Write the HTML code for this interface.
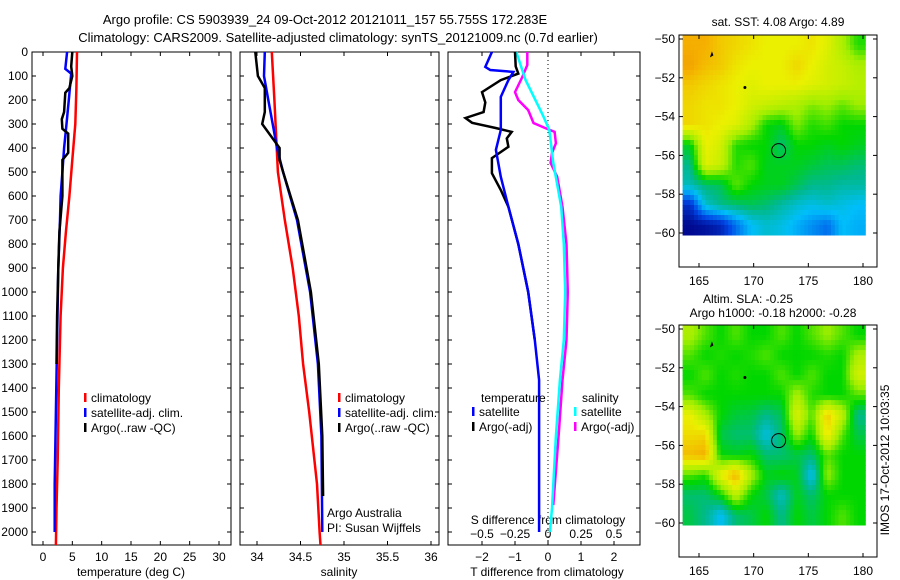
<!DOCTYPE html>
<html><head><meta charset="utf-8"><style>
body{margin:0;background:#fff}
svg{display:block;font-family:"Liberation Sans",sans-serif}
text{font-size:12px;fill:#000}
</style></head><body>
<svg id="c" width="900" height="580" viewBox="0 0 900 580">
<text x="325" y="24" text-anchor="middle" style="font-size:13px">Argo profile: CS 5903939_24 09-Oct-2012 20121011_157 55.755S 172.283E</text>
<text x="338" y="42" text-anchor="middle" style="font-size:13px">Climatology: CARS2009. Satellite-adjusted climatology: synTS_20121009.nc (0.7d earlier)</text>
<text transform="translate(889,460) rotate(-90)" text-anchor="middle">IMOS 17-Oct-2012 10:03:35</text>
</svg>
<script>
// ---- data ----
const depthTicks=[0,100,200,300,400,500,600,700,800,900,1000,1100,1200,1300,1400,1500,1600,1700,1800,1900,2000];
const tempTicks=[0,5,10,15,20,25,30];
const salTicks=[34,34.5,35,35.5,36];
const tdiffTicks=[-2,-1,0,1,2];
const sdiffTicks=[-0.5,-0.25,0,0.25,0.5];
const tClimDepth=[0,150,300,450,600,750,900,1100,1400,1700,1900,2054];
const tClimVal=[5.8,5.7,5.5,5.0,4.5,3.9,3.4,3.0,2.7,2.5,2.3,2.2];
const tSatDepth=[0,70,90,200,300,400,500,600,700,900,1200,1500,1800,2000];
const tSatVal=[4.1,3.8,4.8,4.4,4.0,3.6,3.3,3.0,2.9,2.6,2.4,2.2,2.0,2.0];
const tArgoDepth=[0,60,100,150,170,250,280,320,340,420,450,600,750,900,1100,1300];
const tArgoVal=[5.0,4.8,5.0,4.5,3.8,3.6,3.2,3.3,4.3,4.3,3.3,3.3,2.8,2.6,2.4,2.3];
const sClimDepth=[0,200,500,700,900,1100,1300,1500,1800,2000,2054];
const sClimVal=[34.17,34.2,34.24,34.32,34.41,34.48,34.53,34.6,34.69,34.72,34.73];
const sSatDepth=[0,100,200,300,400,500,700,1000,1300,1600,2000];
const sSatVal=[34.09,34.08,34.13,34.18,34.23,34.3,34.46,34.61,34.7,34.74,34.75];
const sArgoDepth=[0,100,150,250,300,400,450,500,700,1000,1300,1600,1850];
const sArgoVal=[33.98,34.01,34.09,34.09,34.06,34.26,34.26,34.3,34.47,34.62,34.71,34.75,34.76];
const dTSatDepth=[0,62,75,83,117,187,325,408,520,645,800,1000,1200,1367,2000];
const dTSatVal=[-1.7,-1.9,-1.75,-1.05,-1.2,-1.43,-1.43,-1.58,-1.43,-1.2,-0.9,-0.6,-0.4,-0.27,-0.27];
const dTArgoDepth=[0,60,90,117,167,210,250,275,295,317,333,360,395,442,505,575,645,800,1000,1200];
const dTArgoVal=[-1.0,-0.98,-0.9,-1.43,-2.0,-1.9,-1.95,-2.5,-2.3,-1.57,-1.1,-1.25,-1.2,-1.7,-1.7,-1.43,-1.2,-0.9,-0.6,-0.4];
const dSArgoDepth=[0,54,104,167,200,242,296,317,333,380,421,462,520,645,800,1000,1200,1367,1600,1888];
const dSArgoVal=[-0.157,-0.157,-0.195,-0.25,-0.225,-0.15,-0.11,-0.02,0.05,0.06,0.03,0.02,0.07,0.11,0.14,0.15,0.14,0.11,0.08,0.04];
const dSSatDepth=[0,117,262,325,462,645,800,1000,1200,1367,1600,1900,2000];
const dSSatVal=[-0.24,-0.17,-0.04,0.01,0.04,0.1,0.12,0.13,0.12,0.09,0.06,0.03,0.015];
const sstGrid=[
[0.82,0.82,0.78,0.76,0.74,0.72,0.72,0.72,0.74,0.7,0.62,0.52],
[0.84,0.8,0.78,0.74,0.72,0.72,0.72,0.76,0.72,0.68,0.66,0.62],
[0.78,0.76,0.74,0.72,0.7,0.72,0.72,0.72,0.7,0.68,0.66,0.64],
[0.76,0.74,0.74,0.72,0.68,0.66,0.64,0.62,0.58,0.6,0.56,0.6],
[0.76,0.74,0.72,0.7,0.62,0.5,0.48,0.58,0.52,0.54,0.5,0.5],
[0.48,0.72,0.68,0.52,0.5,0.5,0.42,0.5,0.5,0.48,0.5,0.48],
[0.4,0.7,0.66,0.52,0.55,0.48,0.48,0.48,0.46,0.44,0.44,0.42],
[0.36,0.42,0.44,0.56,0.5,0.48,0.48,0.44,0.4,0.4,0.38,0.38],
[0.1,0.34,0.4,0.42,0.44,0.42,0.38,0.34,0.32,0.34,0.32,0.3],
[0.02,0.04,0.08,0.2,0.3,0.34,0.32,0.28,0.24,0.2,0.3,0.28]];
const slaGrid=[
[0.62,0.55,0.5,0.55,0.5,0.5,0.55,0.5,0.55,0.6,0.55,0.5],
[0.55,0.5,0.52,0.5,0.52,0.55,0.5,0.5,0.5,0.52,0.5,0.62],
[0.5,0.55,0.5,0.52,0.5,0.5,0.55,0.5,0.55,0.5,0.5,0.68],
[0.55,0.5,0.5,0.5,0.5,0.5,0.5,0.62,0.52,0.5,0.5,0.55],
[0.72,0.62,0.5,0.46,0.45,0.4,0.44,0.7,0.55,0.78,0.65,0.4],
[0.75,0.76,0.45,0.42,0.42,0.32,0.42,0.6,0.5,0.74,0.55,0.45],
[0.8,0.82,0.5,0.48,0.5,0.42,0.42,0.45,0.42,0.55,0.5,0.5],
[0.55,0.52,0.72,0.82,0.62,0.48,0.5,0.48,0.3,0.6,0.5,0.5],
[0.42,0.42,0.5,0.65,0.5,0.45,0.35,0.48,0.42,0.5,0.5,0.5],
[0.45,0.4,0.3,0.42,0.45,0.5,0.4,0.5,0.45,0.5,0.55,0.5]];
const lonTicks=[165,170,175,180];
const latTicks=[-50,-52,-54,-56,-58,-60];
const argoLon=172.283, argoLat=-55.755;

// ---- helpers ----
const svg=document.getElementById('c');const NS='http://www.w3.org/2000/svg';
function mk(tag,at,parent){const e=document.createElementNS(NS,tag);for(const k in at)e.setAttribute(k,at[k]);(parent||svg).appendChild(e);return e;}
function txt(x,y,s,anchor,parent){const t=mk('text',{x:x,y:y,'text-anchor':anchor||'start'},parent);t.textContent=s;return t;}
const Y0=52,YB=545,DMAX=(YB-Y0)/0.24;
const yD=d=>Y0+d*(YB-Y0)/DMAX;
function lin(d0,d1,p0,p1){return v=>p0+(v-d0)*(p1-p0)/(d1-d0);}
function frame(x0,x1,name){
  const r=mk('rect',{x:x0,y:Y0,width:x1-x0,height:YB-Y0,fill:'none',stroke:'#000','stroke-width':1});
  
  depthTicks.forEach(d=>{const y=yD(d);mk('line',{x1:x0,x2:x0+4,y1:y,y2:y,stroke:'#000'});mk('line',{x1:x1-4,x2:x1,y1:y,y2:y,stroke:'#000'});});
}
function xticks(x0,x1,ticks,fx,labY,name){
  const g=mk('g',{});
  ticks.forEach(v=>{const x=fx(v);mk('line',{x1:x,x2:x,y1:Y0,y2:Y0+4,stroke:'#000'},g);mk('line',{x1:x,x2:x,y1:YB-4,y2:YB,stroke:'#000'},g);
    if(labY)txt(x,labY,String(v).replace('-','\u2212'),'middle',g);});
}
function line(depths,vals,fx,color,name,w){
  const p=mk('polyline',{points:depths.map((d,i)=>fx(vals[i]).toFixed(1)+','+yD(d).toFixed(1)).join(' '),fill:'none',stroke:color,'stroke-width':w||2.5});
  
}
function legend(x,y,color,label,name){
  const g=mk('g',{});
  mk('rect',{x:x,y:y-9,width:2.5,height:9,fill:color},g);txt(x+7,y,label,'start',g);
}
const yl=mk('g',{});
depthTicks.forEach(d=>txt(28,yD(d)+4,d,'end',yl));

// panel 1 temperature
const fT=lin(0,30,43,219);
frame(32,231,'temperature-panel');
xticks(32,231,tempTicks,fT,561,'temperature-x-ticks');
txt(131,576,'temperature (deg C)','middle');
line(tClimDepth,tClimVal,fT,'#f00','temp-climatology');
line(tSatDepth,tSatVal,fT,'#00f','temp-satellite');
line(tArgoDepth,tArgoVal,fT,'#000','temp-argo');
legend(84,402,'#f00','climatology','legend-climatology');
legend(84,417,'#00f','satellite-adj. clim.','legend-satellite');
legend(84,432,'#000','Argo(..raw -QC)','legend-argo');

// panel 2 salinity
const fS=lin(34,36,257,431);
frame(240,439,'salinity-panel');
xticks(240,439,salTicks,fS,561,'salinity-x-ticks');
txt(339,576,'salinity','middle');
line(sClimDepth,sClimVal,fS,'#f00','sal-climatology');
line(sSatDepth,sSatVal,fS,'#00f','sal-satellite');
line(sArgoDepth,sArgoVal,fS,'#000','sal-argo');
legend(338,402,'#f00','climatology','legend2-climatology');
legend(338,417,'#00f','satellite-adj. clim.','legend2-satellite');
legend(338,432,'#000','Argo(..raw -QC)','legend2-argo');
txt(327,517,'Argo Australia');
txt(327,532,'PI: Susan Wijffels');

// panel 3 differences
const fDT=lin(0,2,548,614), fDS=lin(0,0.5,548,614);
frame(448,640,'difference-panel');
xticks(448,640,tdiffTicks,fDT,561,'tdiff-x-ticks');
txt(547,576,'T difference from climatology','middle');
const sl=mk('g',{});
sdiffTicks.forEach(v=>txt(fDS(v),538,String(v).replace('-','\u2212'),'middle',sl));
txt(548,524,'S difference from climatology','middle');
mk('line',{x1:548,x2:548,y1:Y0,y2:YB,stroke:'#000','stroke-dasharray':'1,3'});
line(dSArgoDepth,dSArgoVal,fDS,'#f0f','sdiff-argo');
line(dSSatDepth,dSSatVal,fDS,'#0ff','sdiff-satellite');
line(dTArgoDepth,dTArgoVal,fDT,'#000','tdiff-argo');
line(dTSatDepth,dTSatVal,fDT,'#00f','tdiff-satellite');
txt(481,402,'temperature');
legend(472,416,'#00f','satellite','legend3-t-satellite');
legend(472,431,'#000','Argo(-adj)','legend3-t-argo');
txt(582,402,'salinity');
legend(574,416,'#0ff','satellite','legend3-s-satellite');
legend(574,431,'#f0f','Argo(-adj)','legend3-s-argo');

// maps
const cmapStops=[[0,[0,0,130]],[0.15,[0,70,230]],[0.3,[0,190,250]],[0.4,[0,185,140]],[0.5,[0,215,0]],[0.6,[160,238,0]],[0.72,[235,240,0]],[0.82,[245,175,0]],[0.92,[225,110,0]],[1,[190,60,0]]];
function cmap(v){v=Math.max(0,Math.min(1,v));
  for(let i=1;i<cmapStops.length;i++){const a=cmapStops[i-1],b=cmapStops[i];
    if(v<=b[0]){const t=(v-a[0])/(b[0]-a[0]);const c=a[1].map((x,k)=>Math.round(x+(b[1][k]-x)*t));return 'rgb('+c.join(',')+')';}}
  return 'rgb(190,60,0)';}
function sample(grid,fi,fj){const nr=grid.length,nc=grid[0].length;
  fi=Math.max(0,Math.min(nr-1,fi));fj=Math.max(0,Math.min(nc-1,fj));
  const i0=Math.floor(fi),j0=Math.floor(fj),i1=Math.min(nr-1,i0+1),j1=Math.min(nc-1,j0+1),ti=fi-i0,tj=fj-j0;
  return grid[i0][j0]*(1-ti)*(1-tj)+grid[i0][j1]*(1-ti)*tj+grid[i1][j0]*ti*(1-tj)+grid[i1][j1]*ti*tj;}
function map(top,grid,name,titles){
  const fx=lin(165,180,699,863), fy=lin(-50,-60,top+4,top+198);
  const g=mk('g',{});
  const lon0=163.5,lon1=180.2,lat0=-49.8,lat1=-60.1;
  const nr=grid.length,nc=grid[0].length,S=4;
  for(let i=0;i<nr*S;i++)for(let j=0;j<nc*S;j++){
    const v=sample(grid,(i+0.5)/S-0.5,(j+0.5)/S-0.5);
    const xa=fx(lon0+(lon1-lon0)*j/(nc*S)),xb=fx(lon0+(lon1-lon0)*(j+1)/(nc*S));
    const ya=fy(lat0+(lat1-lat0)*i/(nr*S)),yb=fy(lat0+(lat1-lat0)*(i+1)/(nr*S));
    const r=mk('rect',{x:xa.toFixed(1),y:ya.toFixed(1),width:(xb-xa+0.6).toFixed(1),height:(yb-ya+0.6).toFixed(1),fill:cmap(v)},g);
    
    
  }
  mk('rect',{x:679,y:top,width:198,height:232,fill:'none',stroke:'#000'},g);
  lonTicks.forEach(v=>{const x=fx(v);mk('line',{x1:x,x2:x,y1:top,y2:top+4,stroke:'#000'},g);mk('line',{x1:x,x2:x,y1:top+232,y2:top+228,stroke:'#000'},g);txt(x,top+250,v,'middle',g);});
  latTicks.forEach(v=>{const y=fy(v);mk('line',{x1:679,x2:683,y1:y,y2:y,stroke:'#000'},g);mk('line',{x1:873,x2:877,y1:y,y2:y,stroke:'#000'},g);txt(675,y+4,String(v).replace('-','\u2212'),'end',g);});
  mk('path',{d:'M'+fx(166.0)+' '+fy(-50.95)+' l2 -6 l1.5 4 z',fill:'#000'},g);
  mk('circle',{cx:fx(169.2),cy:fy(-52.5),r:1.5,fill:'#000'},g);
  const c=mk('circle',{cx:fx(argoLon),cy:fy(argoLat),r:7,fill:'none',stroke:'#000'},g);
  
  
  titles.forEach(t=>txt(t[1],t[2],t[0],'middle',g));
}
map(35,sstGrid,'sst-map',[['sat. SST: 4.08 Argo: 4.89',778,26]]);
map(325,slaGrid,'sla-map',[['Altim. SLA: -0.25',748,303],['Argo h1000: -0.18 h2000: -0.28',773,317]]);
</script>
</body></html>
